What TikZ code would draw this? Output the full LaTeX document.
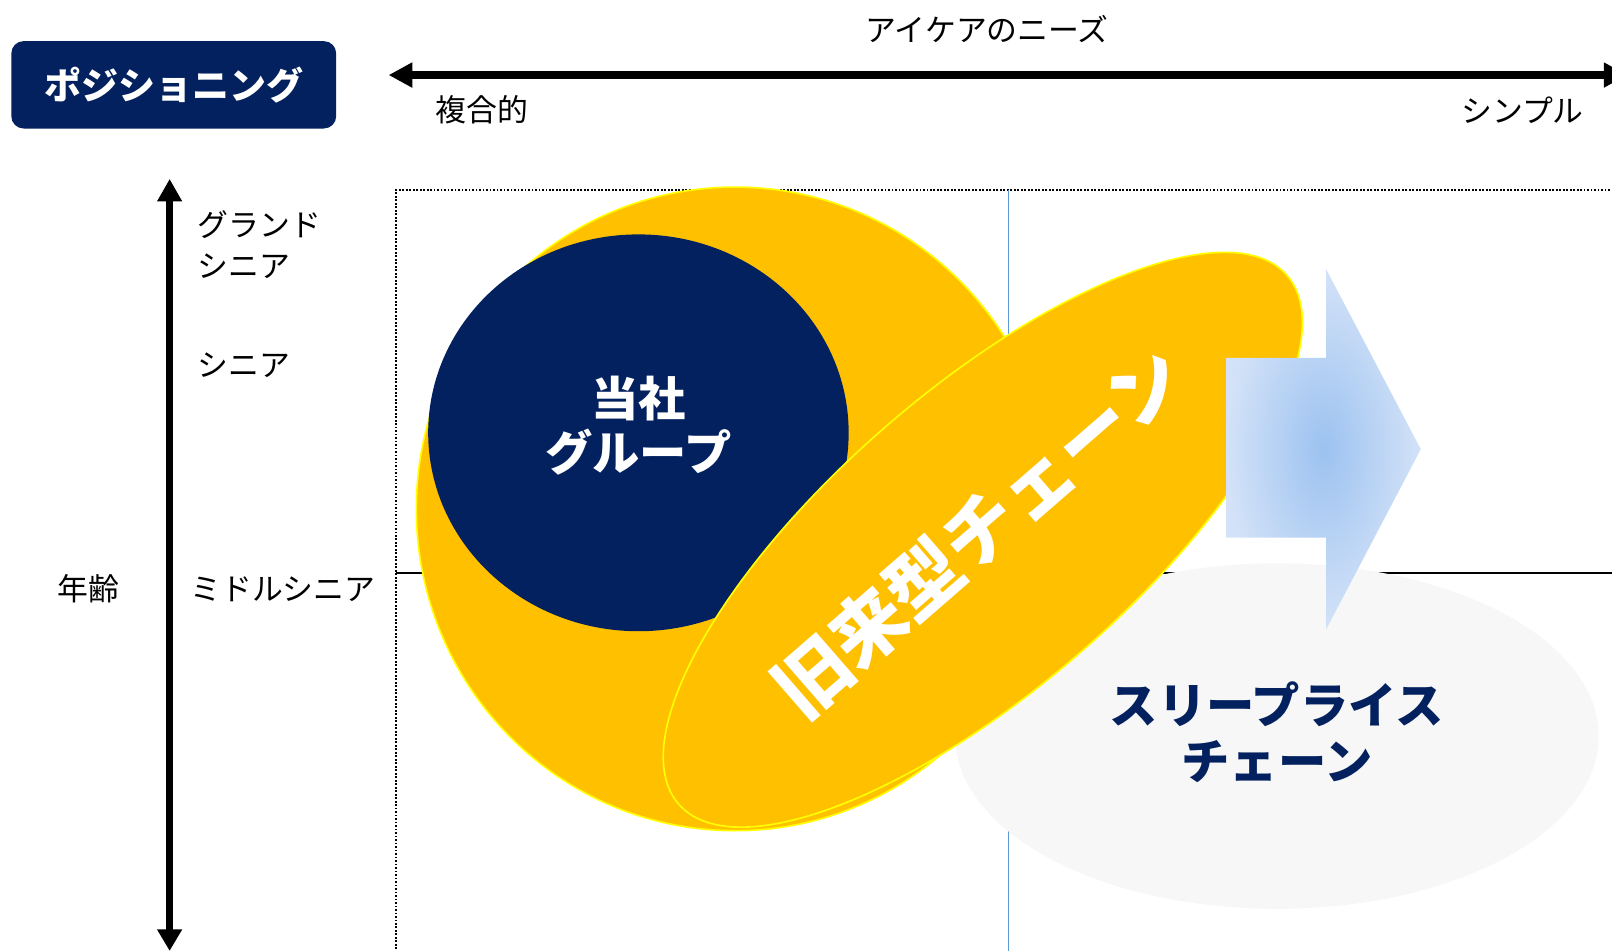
\documentclass[tikz,border=0pt]{standalone}
\usepackage{fontspec}
\setmainfont{Noto Sans CJK JP}
\usetikzlibrary{arrows.meta,shapes.geometric}
\definecolor{navy}{HTML}{03215E}
\definecolor{gold}{HTML}{FFC000}
\definecolor{yel}{HTML}{FFFF00}
\definecolor{lgray}{HTML}{F7F7F7}
\definecolor{lineblue}{HTML}{5B9BD5}
\definecolor{arrin}{HTML}{9CC2F0}
\definecolor{arrout}{HTML}{D3E2F8}
\begin{document}
\begin{tikzpicture}[x=1pt,y=-1pt,
  lbl/.style={font=\fontsize{30}{40}\selectfont, inner sep=0pt, text=black},
  lbll/.style={lbl, anchor=west, align=left},
  big/.style={font=\bfseries\fontsize{#1}{#1}\selectfont, inner sep=0pt},
  axisarrow/.style={line width=#1, {Triangle[length=23pt,width=23pt]}-{Triangle[length=23pt,width=23pt]}},
  goldshape/.style={ellipse, fill=gold, draw=yel, line width=1.6pt, inner sep=0pt}
]
\useasboundingbox (0,0) rectangle (1568,925);
\clip (0,0) rectangle (1568,925);
\fill[white] (0,0) rectangle (1568,925);

% grid
\coordinate (gtr) at (1600,185);
\coordinate (gtl) at (385,185);
\coordinate (gbl) at (385,960);
\coordinate (vt) at (981,185);
\coordinate (vb) at (981,960);
\coordinate (ml) at (385,557);
\coordinate (mr) at (1600,557);
\draw[dash pattern=on 1.8pt off 1.6pt, line width=1.8pt] (gtr) -- (gtl) -- (gbl);
\draw[lineblue, line width=1.3pt] (vt) -- (vb);
\draw[line width=1.8pt] (ml) -- (mr);

% shapes
\node[ellipse, fill=lgray, inner sep=0pt, minimum width=626pt, minimum height=336pt] (spc) at (1242,716) {};
\node[goldshape, minimum width=620pt, minimum height=626pt] (bigc) at (715,495) {};
\node[ellipse, fill=navy, inner sep=0pt, minimum width=409pt, minimum height=386pt] (grp) at (621,421) {};
\node[goldshape, minimum width=784pt, minimum height=290pt, rotate=41] (old) at (956,525) {};
\shade[inner color=arrin, outer color=arrout]
  (1193,348) -- (1290,348) -- (1290,262) -- (1382,437) -- (1290,612) -- (1290,523) -- (1193,523) -- cycle;

% shape texts
\node[big=46, text=white, align=center, font=\bfseries\fontsize{46}{52}\selectfont] (grpt) at (621,414) {当社\\グループ};
\node[big=72, text=white, rotate=41] (oldt) at (952,517) {旧来型チェーン};
\node[big=47, text=navy, align=center, font=\bfseries\fontsize{47}{55}\selectfont] (spct) at (1242,712) {スリープライス\\チェーン};

% header box
\node[fill=navy, rounded corners=12pt, minimum width=316pt, minimum height=85pt, inner sep=0pt, text=white, font=\bfseries\fontsize{36}{36}\selectfont] (pos) at (169,82.5) {ポジショニング};

% axes
\coordinate (hl) at (378,73);
\coordinate (hr) at (1583,73);
\draw[axisarrow=8pt] (hl) -- (hr);
\coordinate (vtop) at (165,174);
\coordinate (vbot) at (165,925);
\draw[line width=7pt, {Triangle[length=22pt,width=23pt]}-{Triangle[length=21pt,width=23pt]}] (vtop) -- (vbot);

% labels
\node[lbl] (need) at (960,28) {アイケアのニーズ};
\node[lbl] (cplx) at (469,107) {複合的};
\node[lbl] (simp) at (1481,107) {シンプル};
\node[lbll] (gs) at (192,238) {グランド\\シニア};
\node[lbll] (sn) at (192,355) {シニア};
\node[lbll] (ms) at (185,573) {ミドルシニア};
\node[lbl] (age) at (86,573) {年齢};
\end{tikzpicture}
\end{document}
